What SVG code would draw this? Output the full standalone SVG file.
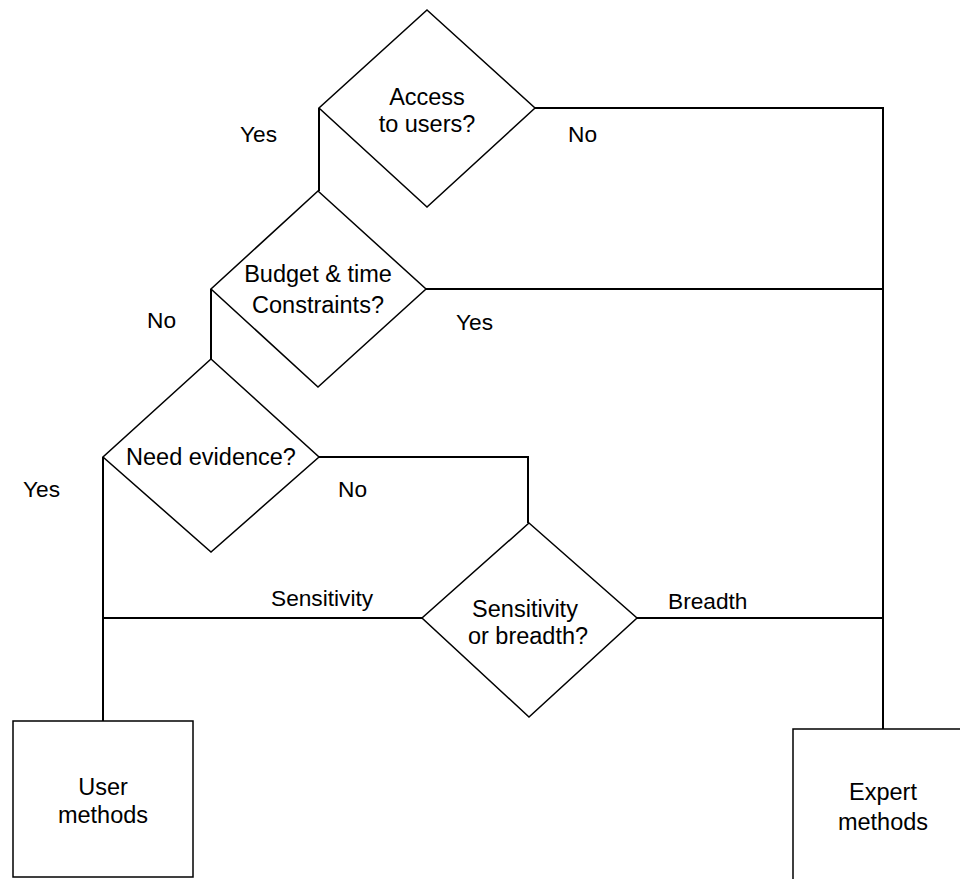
<svg xmlns="http://www.w3.org/2000/svg" width="960" height="879" viewBox="0 0 960 879">
<style>
.shape{fill:#fff;stroke:#000;stroke-width:1.5}
.conn{fill:none;stroke:#000;stroke-width:2}
text{font-family:"Liberation Sans",Arial,sans-serif;font-size:22.7px;fill:#000}
.n{text-anchor:middle;font-size:23.5px}
</style>
<rect width="960" height="879" fill="#fff"/>
<g id="connectors">
<polyline class="conn" points="319,108 319,191"/>
<polyline class="conn" points="535,108 883,108 883,729"/>
<polyline class="conn" points="211,289 211,359"/>
<polyline class="conn" points="426,289 883,289"/>
<polyline class="conn" points="103,457 103,721"/>
<polyline class="conn" points="319,457 528,457 528,523"/>
<polyline class="conn" points="103,618 422,618"/>
<polyline class="conn" points="637,618 883,618"/>
</g>
<g id="labels">
<text x="240" y="142">Yes</text>
<text x="568" y="142">No</text>
<text x="147" y="328">No</text>
<text x="456" y="330">Yes</text>
<text x="23" y="497">Yes</text>
<text x="338" y="497">No</text>
<text x="271" y="606">Sensitivity</text>
<text x="668" y="609">Breadth</text>
</g>
<g id="access">
<polygon class="shape" points="427,10 535,108 427,207 319,108"/>
<text class="n" x="427" y="105">Access</text>
<text class="n" x="427" y="132">to users?</text>
</g>
<g id="budget">
<polygon class="shape" points="318,191 426,289 318,387 211,289"/>
<text class="n" x="318" y="282">Budget &amp; time</text>
<text class="n" x="318" y="313">Constraints?</text>
</g>
<g id="evidence">
<polygon class="shape" points="211,359 319,457 211,552 103,457"/>
<text class="n" x="211" y="465">Need evidence?</text>
</g>
<g id="sensitivity">
<polygon class="shape" points="529,523 637,618 529,717 422,618"/>
<text class="n" x="525" y="617">Sensitivity</text>
<text class="n" x="528" y="644">or breadth?</text>
</g>
<g id="user">
<rect class="shape" x="13" y="721" width="180" height="156"/>
<text class="n" x="103" y="795">User</text>
<text class="n" x="103" y="823">methods</text>
</g>
<g id="expert">
<rect class="shape" x="793" y="729" width="180" height="156"/>
<text class="n" x="883" y="800">Expert</text>
<text class="n" x="883" y="830">methods</text>
</g>
</svg>
